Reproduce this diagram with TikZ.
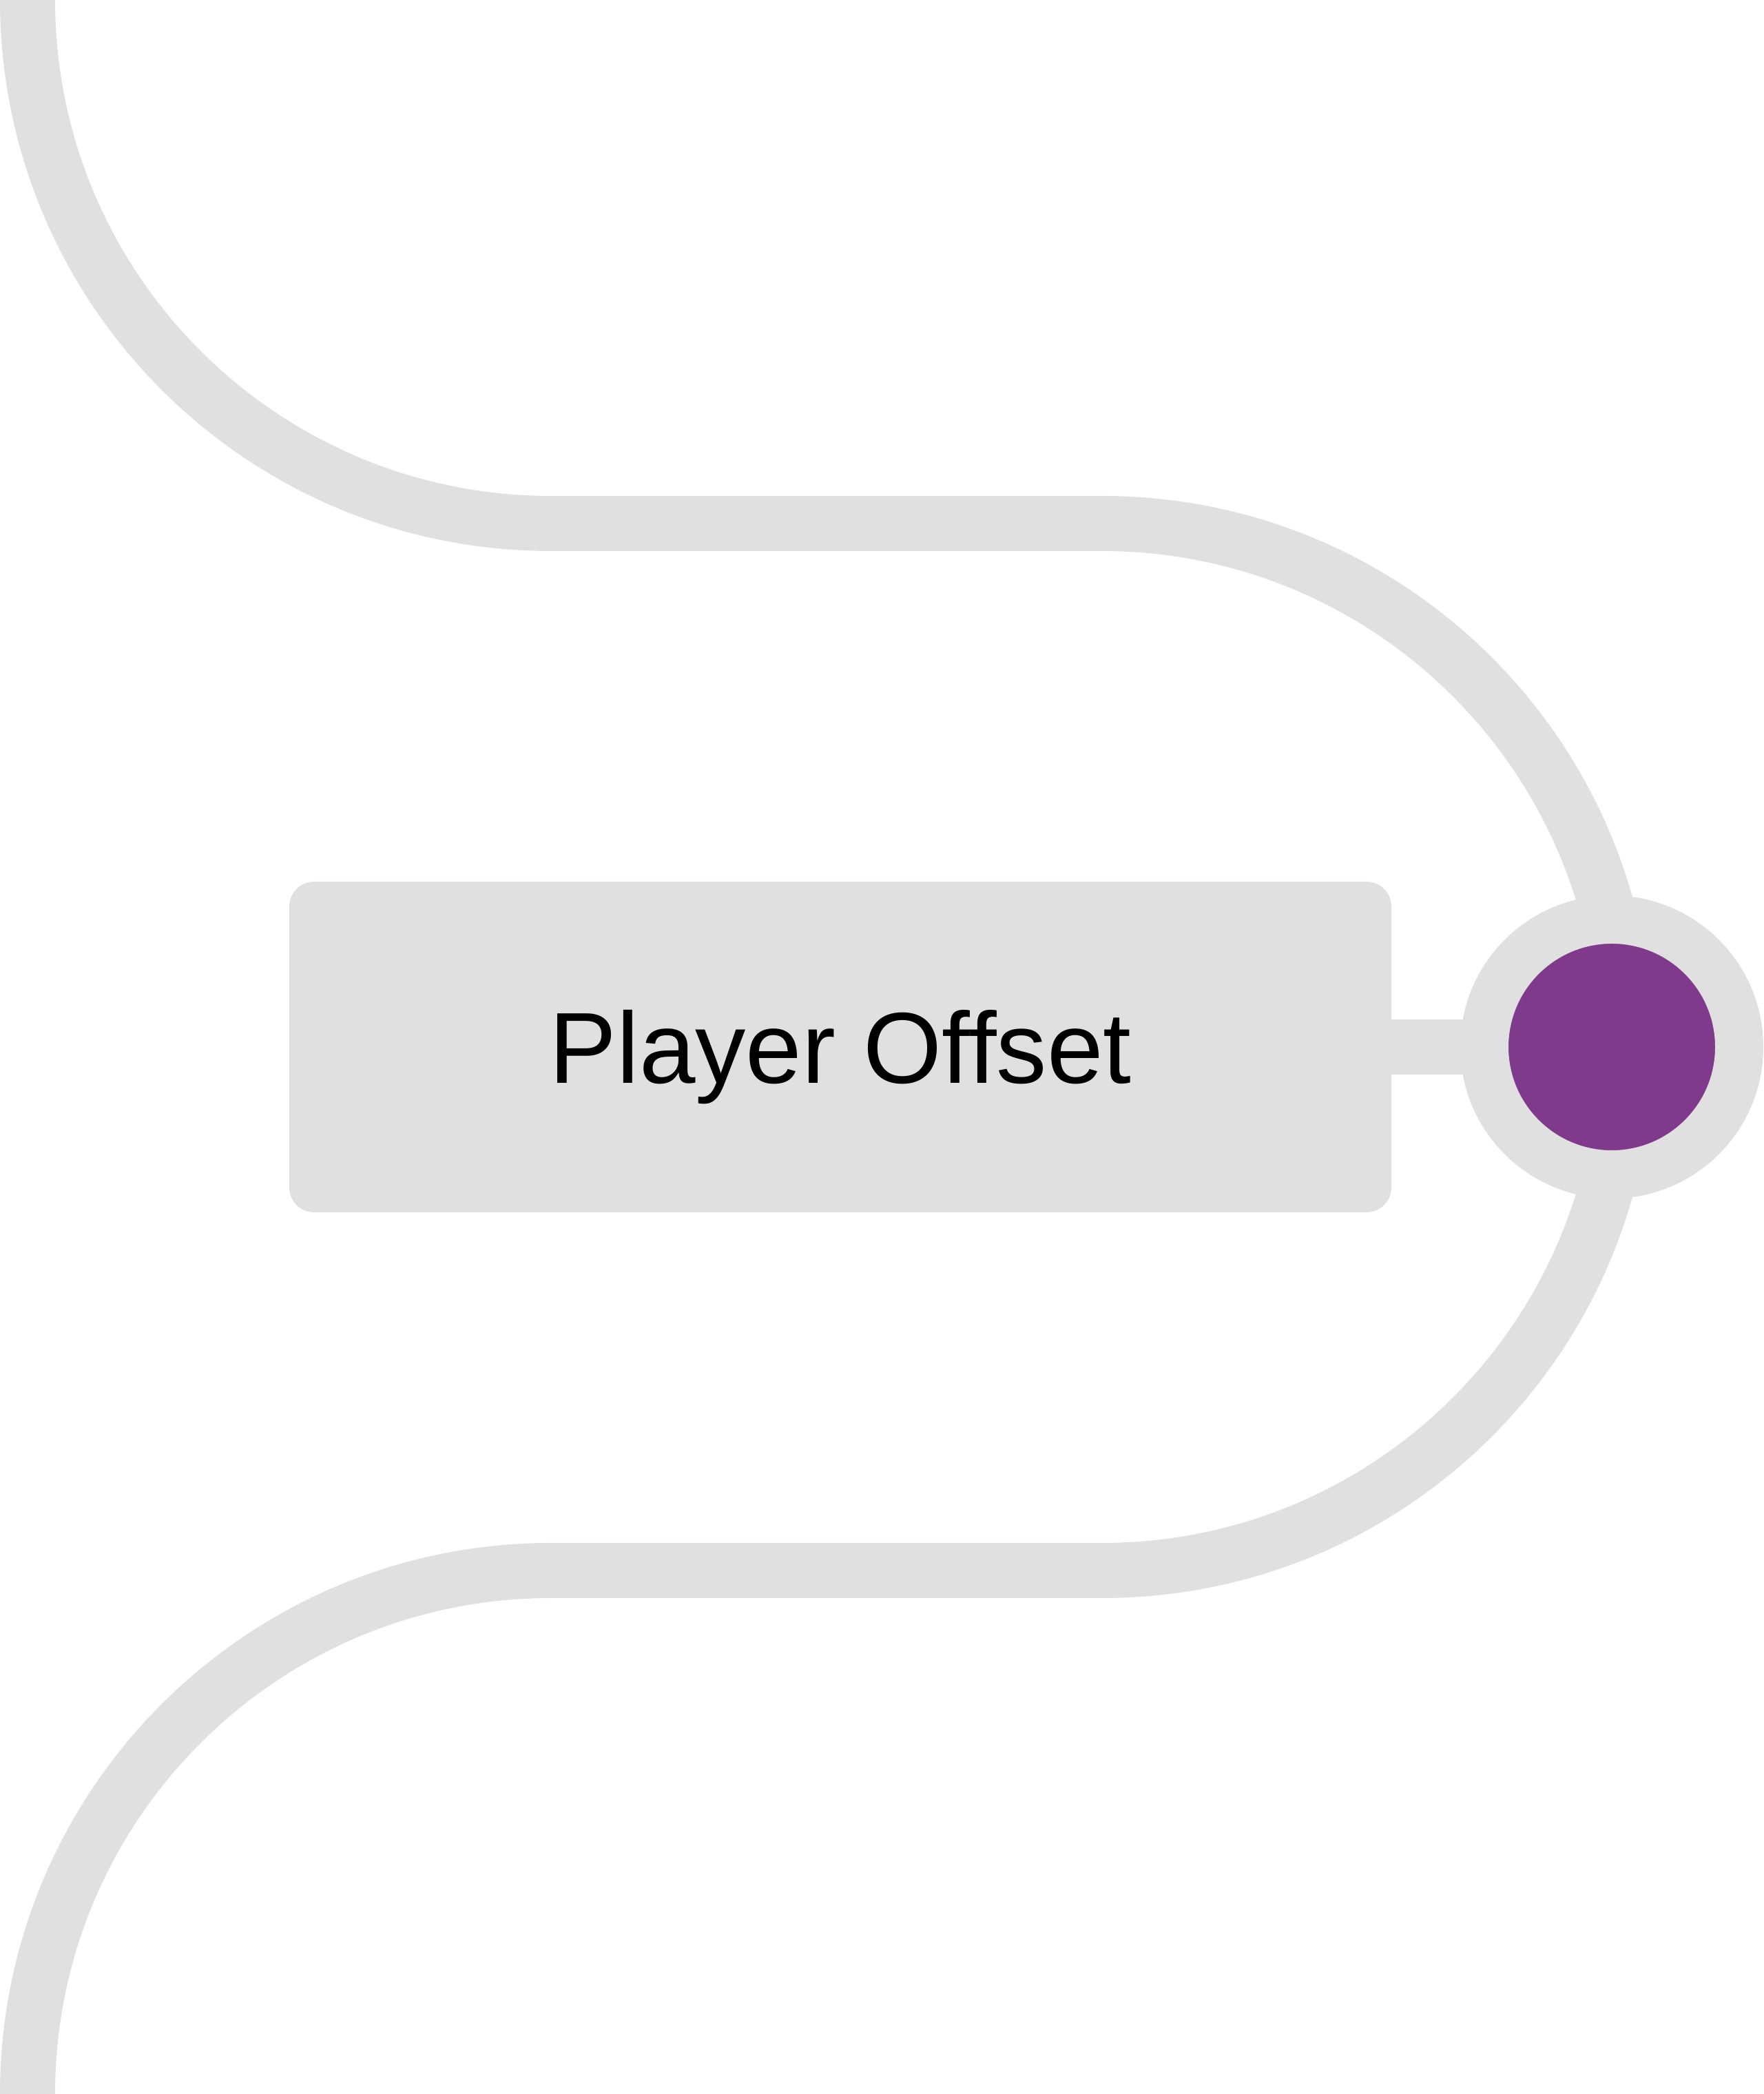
\documentclass[tikz,border=0pt]{standalone}
\usepackage{fontspec}
\setsansfont{Liberation Sans}[Ligatures=CommonOff]
\usetikzlibrary{positioning}
\usetikzlibrary{backgrounds}
\definecolor{trackgray}{HTML}{E0E0E0}
\definecolor{dotpurple}{HTML}{7F3A8C}
\begin{document}
\begin{tikzpicture}[font=\sffamily\fontsize{41.7}{50}\selectfont,
                      track/.style={draw=trackgray,line width=0.8cm},
                      stage/.style={fill=trackgray,rounded corners=0.36cm,inner sep=0,outer sep=0,
                                    minimum width=16cm,minimum height=4.8cm,text height=1.05cm,text depth=0cm},
                      stop/.style={circle,fill=dotpurple,draw=trackgray,line width=0.7cm,inner sep=0,outer sep=0,
                                   minimum size=3.7cm},
                      ]
    \useasboundingbox (0,0) rectangle (25.6,30.4);
    \node[stage] (offset) at (12.2,15.2) {Player Offset};
    \node[stop,right=1.35cm of offset] (offsetdot) {};

    \begin{scope}[on background layer]
    \coordinate (tracktop) at (0.4,30.4);
    \coordinate (trackupper) at (16,22.8);
    \coordinate (tracklower) at (8,7.6);
    \draw[track] (tracktop) arc[start angle=180,end angle=270,radius=7.6cm] -- (trackupper)
                 arc[start angle=90,end angle=-90,radius=7.6cm] -- (tracklower)
                 arc[start angle=90,end angle=180,radius=7.6cm];
    \draw[track] (offset.east) -- (offsetdot.center);
    \end{scope}
  \end{tikzpicture}
\end{document}
